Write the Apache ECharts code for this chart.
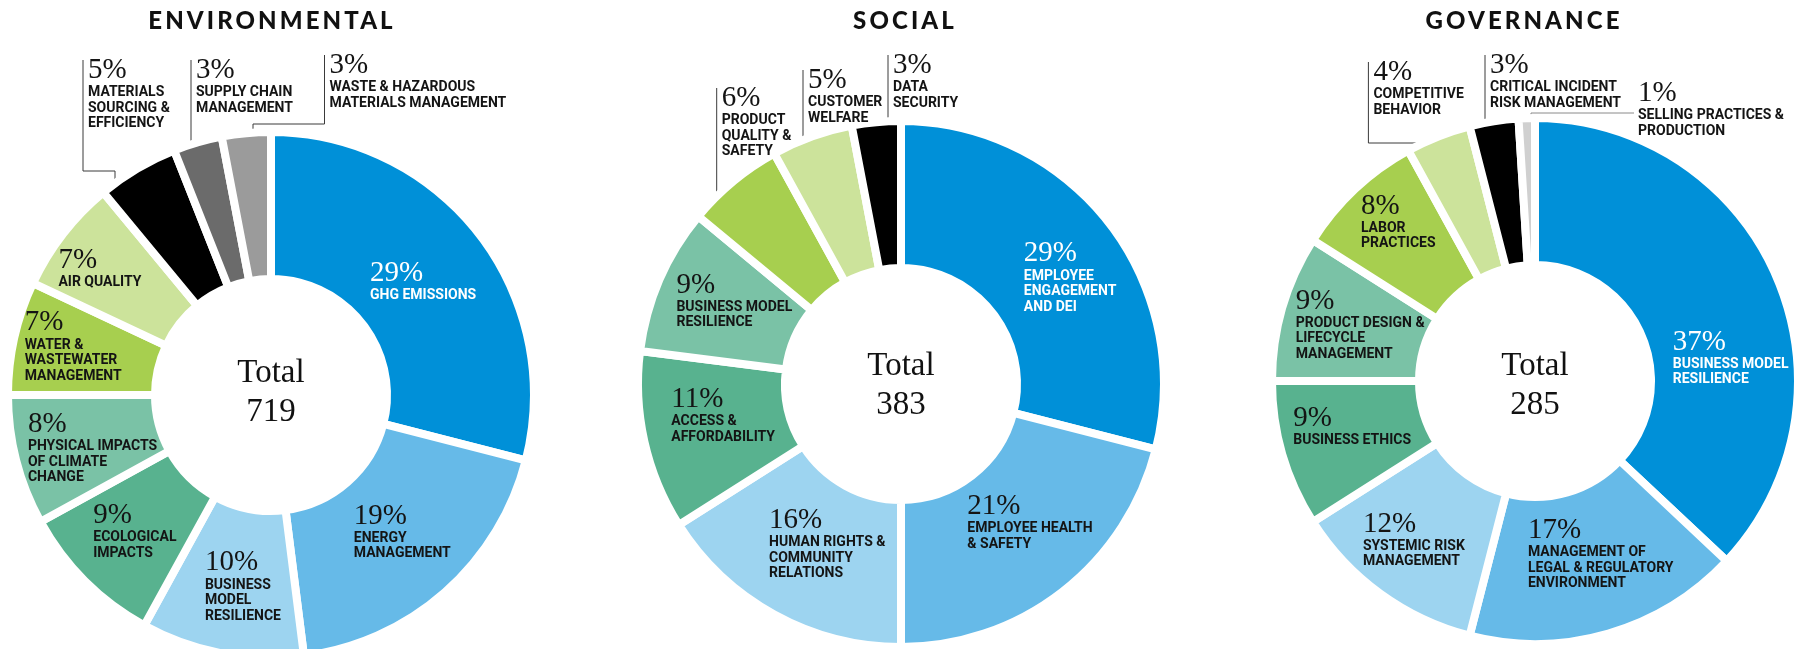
<!DOCTYPE html>
<html>
<head>
<meta charset="utf-8">
<script src="https://cdn.jsdelivr.net/npm/echarts@6/dist/echarts.min.js"></script>
<style>
html,body{margin:0;padding:0;background:#ffffff;}
#chart{width:1800px;height:649px;}
</style>
</head>
<body>
<div id="chart"></div>
<script>
// ================= DATA =================
const groupTitles = ['ENVIRONMENTAL', 'SOCIAL', 'GOVERNANCE'];
const totals = [719, 383, 285];

const envCategories = [
  'GHG EMISSIONS',
  'ENERGY\nMANAGEMENT',
  'BUSINESS\nMODEL\nRESILIENCE',
  'ECOLOGICAL\nIMPACTS',
  'PHYSICAL IMPACTS\nOF CLIMATE\nCHANGE',
  'WATER &\nWASTEWATER\nMANAGEMENT',
  'AIR QUALITY',
  'MATERIALS\nSOURCING &\nEFFICIENCY',
  'SUPPLY CHAIN\nMANAGEMENT',
  'WASTE & HAZARDOUS\nMATERIALS MANAGEMENT'
];
const envShares = [29, 19, 10, 9, 8, 7, 7, 5, 3, 3];

const socialCategories = [
  'EMPLOYEE\nENGAGEMENT\nAND DEI',
  'EMPLOYEE HEALTH\n& SAFETY',
  'HUMAN RIGHTS &\nCOMMUNITY\nRELATIONS',
  'ACCESS &\nAFFORDABILITY',
  'BUSINESS MODEL\nRESILIENCE',
  'PRODUCT\nQUALITY &\nSAFETY',
  'CUSTOMER\nWELFARE',
  'DATA\nSECURITY'
];
const socialShares = [29, 21, 16, 11, 9, 6, 5, 3];

const govCategories = [
  'BUSINESS MODEL\nRESILIENCE',
  'MANAGEMENT OF\nLEGAL & REGULATORY\nENVIRONMENT',
  'SYSTEMIC RISK\nMANAGEMENT',
  'BUSINESS ETHICS',
  'PRODUCT DESIGN &\nLIFECYCLE\nMANAGEMENT',
  'LABOR\nPRACTICES',
  'COMPETITIVE\nBEHAVIOR',
  'CRITICAL INCIDENT\nRISK MANAGEMENT',
  'SELLING PRACTICES &\nPRODUCTION'
];
const govShares = [37, 17, 12, 9, 9, 8, 4, 3, 1];

// ================= STYLE / LAYOUT =================
const groups = [
  { cats: envCategories, vals: envShares },
  { cats: socialCategories, vals: socialShares },
  { cats: govCategories, vals: govShares }
];
const palettes = [
  ['#0090d8','#66bae8','#9dd4f0','#58b28f','#7ac2a6','#a7cf4f','#cce39b','#000000','#6b6b6b','#9b9b9b'],
  ['#0090d8','#66bae8','#9dd4f0','#58b28f','#7ac2a6','#a7cf4f','#cce39b','#000000'],
  ['#0090d8','#66bae8','#9dd4f0','#58b28f','#7ac2a6','#a7cf4f','#cce39b','#000000','#d0d0d0']
];
const CENTERS = [[271, 395], [901, 384], [1535, 381]];
const R_IN = 116, R_OUT = 263, GAP = 8;
const R_VIS = R_OUT - GAP / 2;
const TITLE_POS = [[272, 21], [905, 21], [1524, 21]];
const TOTAL_DY = [-2, 2, 5];
const TEXT_DARK = '#141414';

// callout labels (offsets relative to pie centre)
const CALLOUTS = [
  { 7: { lineX: -188, top: -335, elbowY: -224, endX: -156, depth: 0 },
    8: { lineX: -80, top: -335, depth: 5 },
    9: { lineX: 53.5, top: -340, elbowY: -271, endX: -18, depth: 10 } },
  { 5: { lineX: -184.3, top: -296, depth: 13 },
    6: { lineX: -98, top: -314, depth: 18 },
    7: { lineX: -13, top: -329, depth: 0 } },
  { 6: { lineX: -166.6, top: -319, elbowY: -238, endX: -96, depth: 0 },
    7: { lineX: -50, top: -326, depth: 0 },
    8: { side: true, textX: 103, top: -298, lineY: -268, endX: -4, depth: 6, color: '#8a8a8a' } }
];
// small nudges of inside labels (px)
const NUDGES = [
  { 0: [0, 4], 1: [4, -8], 2: [8, 2], 4: [8, 5], 5: [-10, -7], 6: [-19, -9] },
  { 0: [17, 11], 1: [11, -14], 2: [19, -9], 3: [10, -11], 4: [10, -7] },
  { 0: [19, 53], 1: [12, -12], 2: [-8, 3], 3: [2, -9], 4: [10, -3], 5: [-5, -19] }
];

// letter-spaced headline text (canvas letterSpacing)
(function () {
  const proto = CanvasRenderingContext2D.prototype;
  const orig = proto.fillText;
  proto.fillText = function (t, x, y, m) {
    if ('letterSpacing' in this) {
      this.letterSpacing = /Spaced/.test(this.font) ? '3.1px' : '0px';
    }
    return m === undefined ? orig.call(this, t, x, y) : orig.call(this, t, x, y, m);
  };
})();

const rich = {
  p: { fontFamily: '"Liberation Serif", serif', fontSize: 29, lineHeight: 29, align: 'left', textBorderWidth: 0 },
  c: { fontFamily: 'Roboto, sans-serif', fontWeight: 'bold', fontSize: 14, lineHeight: 15.5, align: 'left', textBorderWidth: 0 }
};
function fmt(p) {
  return '{p|' + p.value + '%}\n' + p.name.split('\n').map(function (s) { return '{c|' + s + '}'; }).join('\n');
}

function makeLabelLayout(si) {
  const cx = CENTERS[si][0], cy = CENTERS[si][1];
  const co = CALLOUTS[si], nud = NUDGES[si];
  function circleY(x) { const d = x - cx; return cy - Math.sqrt(Math.max(0, R_VIS * R_VIS - d * d)); }
  return function (p) {
    const i = p.dataIndex;
    const c = co[i];
    if (c) {
      if (c.side) {
        const tx = cx + c.textX, hy = cy + c.lineY, ex = cx + c.endX;
        return {
          x: tx, y: cy + c.top - 4, align: 'left', verticalAlign: 'top',
          labelLinePoints: [[tx - 4, hy], [ex, hy], [ex, circleY(ex) + c.depth]]
        };
      }
      const lx = cx + c.lineX, top = cy + c.top;
      const pts = [[lx, top]];
      if (c.elbowY != null) {
        const ey = cy + c.elbowY, ex = cx + c.endX;
        pts.push([lx, ey], [ex, ey]);
        const endY = circleY(ex) + c.depth;
        if (endY > ey) pts.push([ex, endY]);
      } else {
        pts.push([lx, circleY(lx) + c.depth]);
      }
      return { x: lx + 5, y: top - 4, align: 'left', verticalAlign: 'top', labelLinePoints: pts };
    }
    const n = nud[i];
    if (n && p.labelRect) {
      return { x: p.labelRect.x + n[0], y: p.labelRect.y + n[1], align: 'left', verticalAlign: 'top' };
    }
    return {};
  };
}

const series = groups.map(function (g, si) {
  return {
    type: 'pie',
    center: CENTERS[si],
    radius: [R_IN, R_OUT],
    startAngle: 90,
    clockwise: true,
    avoidLabelOverlap: false,
    silent: true,
    emphasis: { disabled: true },
    itemStyle: { borderColor: '#ffffff', borderWidth: GAP },
    label: { show: true, position: 'inside', formatter: fmt, rich: rich, textBorderWidth: 0, color: TEXT_DARK },
    labelLine: { show: false },
    labelLayout: makeLabelLayout(si),
    data: g.vals.map(function (v, k) {
      const c = CALLOUTS[si][k];
      return {
        value: v,
        name: g.cats[k],
        itemStyle: { color: palettes[si][k] },
        label: c
          ? { position: 'outside', width: 240, overflow: 'none', color: TEXT_DARK }
          : { position: 'inside', color: k === 0 ? '#ffffff' : TEXT_DARK },
        labelLine: c
          ? { show: true, length: 10, length2: 10, lineStyle: { color: c.color || '#3a3a3a', width: 1 } }
          : { show: false }
      };
    })
  };
});

const graphic = [];
groupTitles.forEach(function (t, i) {
  graphic.push({
    type: 'text', x: TITLE_POS[i][0], y: TITLE_POS[i][1], silent: true,
    style: { text: t, font: '900 24px Lato, Spaced, sans-serif', fill: '#111111', align: 'center', verticalAlign: 'middle' }
  });
});
totals.forEach(function (n, i) {
  graphic.push({
    type: 'text', x: CENTERS[i][0], y: CENTERS[i][1] + TOTAL_DY[i], silent: true,
    style: { text: 'Total\n' + n, font: '33px "Liberation Serif", serif', lineHeight: 39, fill: '#111111', align: 'center', verticalAlign: 'middle' }
  });
});

const chart = echarts.init(document.getElementById('chart'), null, { renderer: 'canvas' });
chart.setOption({
  animation: false,
  backgroundColor: '#ffffff',
  series: series,
  graphic: graphic
});
</script>
</body>
</html>
